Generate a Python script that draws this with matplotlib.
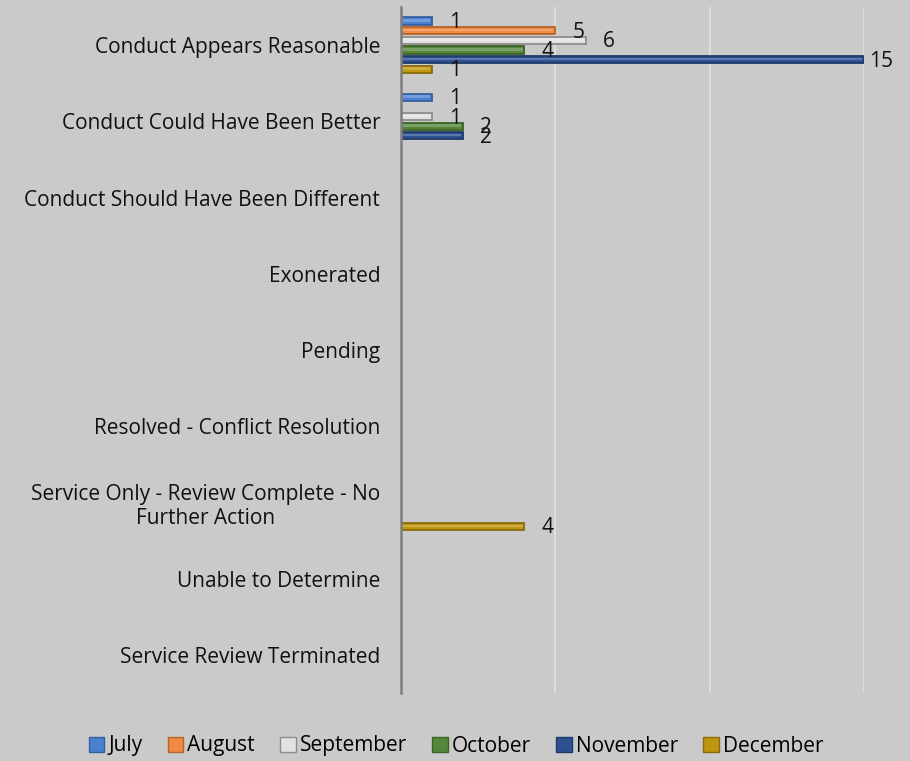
import numpy as np
import matplotlib
matplotlib.use("Agg")
import matplotlib.pyplot as plt
from matplotlib.colors import to_rgb
from matplotlib.patches import Patch

plt.rcParams['font.family'] = ['Open Sans', 'DejaVu Sans']

categories = [
    "Conduct Appears Reasonable",
    "Conduct Could Have Been Better",
    "Conduct Should Have Been Different",
    "Exonerated",
    "Pending",
    "Resolved - Conflict Resolution",
    "Service Only - Review Complete - No\nFurther Action",
    "Unable to Determine",
    "Service Review Terminated",
]
months = ["July", "August", "September", "October", "November", "December"]

july = [1, 1, 0, 0, 0, 0, 0, 0, 0]
august = [5, 0, 0, 0, 0, 0, 0, 0, 0]
september = [6, 1, 0, 0, 0, 0, 0, 0, 0]
october = [4, 2, 0, 0, 0, 0, 0, 0, 0]
november = [15, 2, 0, 0, 0, 0, 0, 0, 0]
december = [1, 0, 0, 0, 0, 0, 4, 0, 0]

series = [july, august, september, october, november, december]
face_colors = ["#4a80d0", "#f08a42", "#e2e2e2", "#55873a", "#2e5192", "#bf960f"]
edge_colors = ["#35609f", "#b8632a", "#8c8c8c", "#3d6327", "#1f3968", "#8a6b0a"]


def lighten(c, amt):
    r, g, b = to_rgb(c)
    return (r + (1 - r) * amt, g + (1 - g) * amt, b + (1 - b) * amt)


bg = "#cacaca"
fs = 15
fig = plt.figure(figsize=(9.10, 7.61), dpi=100, facecolor=bg)
ax = fig.add_axes([401 / 910, 1 - 693 / 761, (864 - 401) / 910, (693 - 7) / 761])
ax.set_facecolor(bg)

n_cat = len(categories)
y = np.arange(n_cat)
step = 0.126
bar_h = 0.095
x_max = 15

for i, (vals, fc, ec) in enumerate(zip(series, face_colors, edge_colors)):
    offs = (i - 2.5) * step
    vals = np.array(vals, dtype=float)
    mask = vals > 0
    ax.barh(y[mask] + offs, vals[mask], height=bar_h, color=fc,
            edgecolor=ec, linewidth=1.3, zorder=3)
    # soft highlight along the middle of each bar
    ax.barh(y[mask] + offs - bar_h * 0.08, vals[mask] - 0.12, left=0.06,
            height=bar_h * 0.35, color=lighten(fc, 0.22), linewidth=0, zorder=3.5)
    for yy, v in zip(y[mask] + offs, vals[mask]):
        # value labels sit just past the bar end, kept inside the right margin
        lx = min(v + 0.55, x_max + 0.15)
        ax.text(lx, yy + 0.02, f"{int(v)}", va="center", ha="left",
                fontsize=fs, color="#111111", clip_on=False, zorder=4)

ax.set_xlim(0, x_max)
ax.set_ylim(n_cat - 0.5, -0.5)
ax.set_xticks([0, 5, 10, 15])
ax.set_xticklabels([])
ax.tick_params(axis="x", length=0)
ax.grid(axis="x", color="#dedede", linewidth=1.5, zorder=0)
ax.set_axisbelow(True)

ax.set_yticks(y)
ax.set_yticklabels(categories, fontsize=fs, color="#111111", multialignment="center")
ax.tick_params(axis="y", length=0, pad=15)

for s in ["top", "right", "bottom"]:
    ax.spines[s].set_visible(False)
ax.spines["left"].set_color("#7f7f7f")
ax.spines["left"].set_linewidth(1.8)
ax.spines["left"].set_zorder(5)

handles = [Patch(facecolor=fc, edgecolor=ec, linewidth=1.0) for fc, ec in zip(face_colors, edge_colors)]
fig.legend(handles, months, loc="center", bbox_to_anchor=(456 / 910, 1 - 746 / 761),
           ncol=6, frameon=False, fontsize=fs, handlelength=0.75, handleheight=0.75,
           handletextpad=0.2, columnspacing=1.2)

fig.savefig("out.png", dpi=100, facecolor=bg)
